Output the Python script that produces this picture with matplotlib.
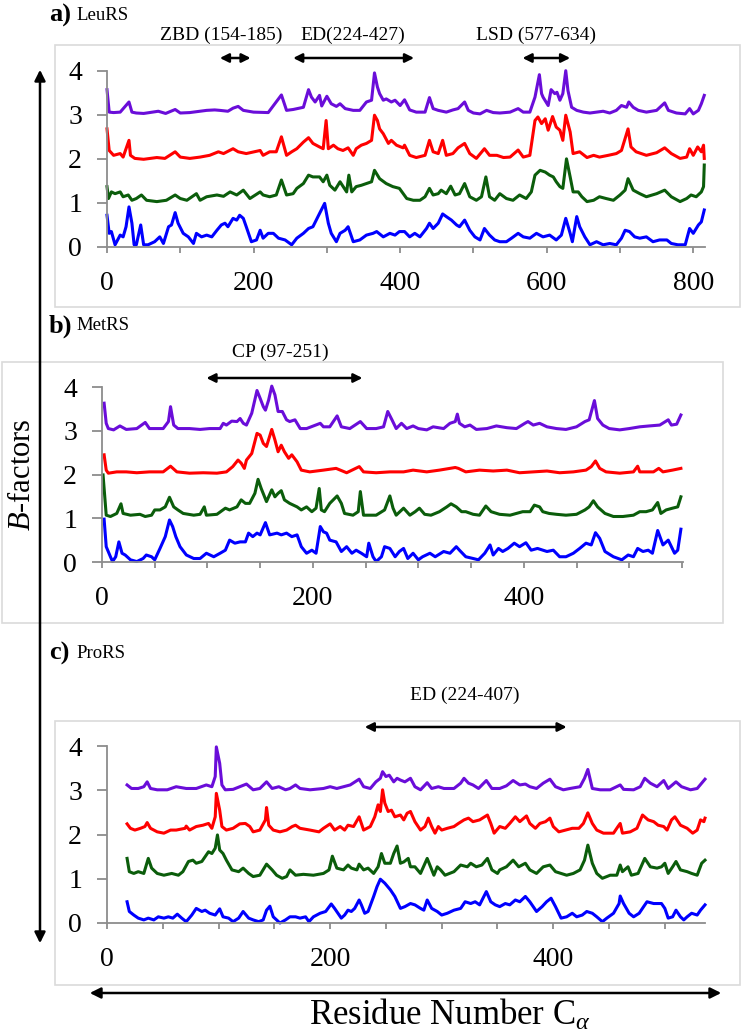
import matplotlib
matplotlib.use('Agg')
import matplotlib.pyplot as plt
from matplotlib.patches import Rectangle, FancyArrowPatch
import numpy as np

# (residue, B-factor); each trace is offset by 0/1/2/3
leu_purple = [(0,3.57),(3,3.06),(9,3.05),(18,3.06),(30,3.29),(34,3.06),(40,3.04),(50,3.03),(70,3.08),(80,3.03),
              (93,3.12),(100,3.04),(113,3.05),(136,3.10),(147,3.11),(154,3.10),(165,3.08),(172,3.15),(179,3.19),(186,3.10),
              (200,3.06),(220,3.05),(238,3.45),(245,3.10),(254,3.12),(268,3.17),(275,3.57),(279,3.40),(284,3.29),(290,3.44),
              (293,3.20),(300,3.42),(306,3.25),(313,3.19),(318,3.25),(325,3.14),(336,3.10),(345,3.10),(354,3.29),(361,3.33),
              (365,3.95),(369,3.63),(372,3.48),(377,3.33),(381,3.36),(388,3.29),(393,3.33),(400,3.21),(406,3.34),(413,3.11),
              (422,3.06),(434,3.06),(440,3.39),(445,3.14),(452,3.10),(463,3.06),(472,3.11),(479,3.14),(488,3.29),(493,3.10),
              (500,3.04),(509,3.02),(518,3.10),(527,3.05),(536,3.04),(550,3.06),(561,3.14),(568,3.06),(577,3.06),(584,3.40),
              (590,3.91),(593,3.48),(595,3.40),(602,3.21),(606,3.57),(611,3.48),(614,3.51),(618,3.33),(622,3.48),(626,4.00),
              (629,3.55),(634,3.17),(641,3.10),(650,3.06),(659,3.04),(668,3.06),(677,3.08),(686,3.04),(695,3.10),(702,3.21),
              (709,3.17),(712,3.29),(718,3.17),(725,3.10),(736,3.06),(750,3.10),(761,3.27),(766,3.10),(777,3.04),(789,3.02),
              (795,3.14),(800,3.02),(807,3.10),(811,3.25),(815,3.44)]
leu_red = [(0,2.68),(3,2.19),(9,2.08),(18,2.12),(22,2.04),(30,2.42),(32,2.08),(38,2.01),(50,1.99),(68,2.03),
           (79,2.01),(93,2.16),(100,2.04),(113,2.01),(127,2.04),(140,2.08),(152,2.16),(159,2.12),(172,2.23),(179,2.16),
           (190,2.12),(209,2.19),(213,2.08),(222,2.16),(231,2.16),(238,2.50),(245,2.08),(252,2.16),(259,2.23),(268,2.38),
           (275,2.48),(281,2.35),(290,2.27),(295,2.23),(299,2.87),(302,2.23),(309,2.31),(315,2.23),(322,2.19),(329,2.25),
           (336,2.08),(340,2.23),(347,2.31),(354,2.35),(361,2.42),(365,2.99),(369,2.87),(372,2.68),(377,2.57),(384,2.35),
           (388,2.42),(395,2.31),(404,2.25),(406,2.31),(413,2.08),(422,2.03),(434,2.08),(440,2.42),(445,2.16),(452,2.12),
           (458,2.42),(463,2.08),(472,2.12),(479,2.25),(488,2.35),(495,2.12),(504,2.01),(515,2.23),(522,2.08),(532,2.08),
           (541,2.03),(550,2.04),(561,2.20),(568,2.04),(577,2.08),(584,2.87),(588,2.95),(593,2.80),(598,2.91),(602,2.65),
           (608,2.96),(613,2.72),(618,2.65),(622,2.42),(626,2.99),(632,2.61),(636,2.12),(645,2.16),(655,2.03),(664,2.08),
           (672,2.04),(684,2.08),(695,2.12),(702,2.19),(711,2.68),(715,2.27),(722,2.16),(736,2.08),(750,2.14),(761,2.25),
           (770,2.12),(782,2.01),(791,2.04),(795,2.23),(800,2.08),(806,2.27),(811,2.16),(814,2.31),(815,2.01)]
leu_green = [(0,1.37),(2,1.10),(6,1.25),(11,1.21),(18,1.25),(22,1.14),(29,1.18),(34,1.06),(40,1.10),(47,1.18),
             (54,1.06),(68,1.03),(81,1.06),(93,1.18),(100,1.10),(109,1.06),(122,1.21),(127,1.06),(136,1.14),(150,1.18),
             (159,1.15),(168,1.25),(177,1.18),(186,1.29),(195,1.10),(209,1.25),(213,1.18),(222,1.14),(231,1.18),(238,1.52),
             (245,1.18),(254,1.21),(259,1.33),(268,1.44),(275,1.63),(281,1.59),(290,1.59),(295,1.48),(300,1.63),(304,1.40),
             (311,1.29),(318,1.48),(327,1.25),(330,1.63),(334,1.25),(340,1.37),(347,1.40),(354,1.44),(361,1.48),(365,1.74),
             (372,1.55),(381,1.44),(390,1.37),(399,1.33),(409,1.10),(418,1.06),(427,1.06),(434,1.14),(440,1.33),(445,1.18),
             (452,1.21),(456,1.29),(463,1.21),(469,1.38),(475,1.18),(481,1.21),(488,1.44),(495,1.14),(504,1.06),(511,1.14),
             (517,1.59),(522,1.14),(529,1.06),(536,1.21),(545,1.10),(554,1.06),(563,1.18),(572,1.10),(579,1.25),(584,1.63),
             (591,1.74),(598,1.70),(604,1.63),(609,1.59),(613,1.48),(618,1.37),(622,1.33),(627,2.00),(632,1.59),(636,1.25),
             (643,1.25),(648,1.14),(655,1.03),(664,1.06),(672,1.14),(681,1.10),(691,1.06),(700,1.18),(707,1.29),(711,1.55),
             (718,1.29),(727,1.21),(736,1.14),(750,1.21),(761,1.29),(770,1.14),(782,1.03),(791,1.10),(797,1.18),(804,1.14),
             (811,1.25),(814,1.37),(815,1.86)]
leu_blue = [(0,0.72),(3,0.31),(6,0.35),(11,0.05),(18,0.27),(22,0.23),(26,0.46),(30,0.91),(34,0.54),(37,0.05),
            (40,0.05),(46,0.50),(50,0.05),(56,0.05),(65,0.12),(72,0.23),(77,0.08),(84,0.46),(88,0.50),(93,0.78),
            (97,0.54),(104,0.31),(111,0.23),(118,0.08),(122,0.31),(129,0.23),(136,0.27),(143,0.23),(150,0.38),(156,0.50),
            (161,0.54),(165,0.46),(172,0.65),(177,0.61),(181,0.72),(186,0.65),(190,0.46),(197,0.12),(204,0.16),(209,0.38),
            (213,0.20),(220,0.31),(227,0.31),(234,0.20),(243,0.16),(252,0.05),(259,0.20),(268,0.31),(275,0.42),(281,0.46),
            (290,0.76),(297,0.99),(302,0.54),(306,0.31),(313,0.12),(318,0.31),(325,0.38),(329,0.46),(336,0.12),(345,0.16),
            (354,0.27),(363,0.31),(368,0.35),(377,0.23),(386,0.31),(393,0.27),(399,0.35),(406,0.35),(413,0.23),(420,0.31),
            (427,0.23),(436,0.42),(440,0.54),(445,0.42),(452,0.54),(458,0.75),(463,0.69),(470,0.61),(477,0.50),(481,0.46),
            (488,0.61),(495,0.38),(502,0.23),(509,0.16),(515,0.42),(522,0.27),(529,0.16),(536,0.12),(545,0.12),(552,0.20),
            (561,0.31),(568,0.23),(577,0.20),(586,0.31),(595,0.23),(604,0.27),(613,0.16),(620,0.27),(626,0.65),(632,0.31),
            (635,0.12),(641,0.69),(645,0.46),(652,0.23),(659,0.05),(668,0.12),(677,0.05),(686,0.08),(695,0.05),(702,0.20),
            (707,0.38),(713,0.35),(720,0.23),(727,0.20),(736,0.23),(745,0.12),(754,0.16),(764,0.16),(770,0.08),(779,0.05),
            (789,0.05),(795,0.42),(800,0.31),(807,0.50),(811,0.57),(815,0.84)]

met_purple = [(2,3.63),(4,3.17),(6,3.05),(11,3.02),(17,3.11),(23,3.03),(33,3.05),(41,3.19),(45,3.05),(58,3.05),
              (63,3.21),(65,3.55),(68,3.13),(72,3.05),(83,3.05),(93,3.03),(102,3.05),(112,3.05),(115,3.17),(118,3.13),
              (123,3.22),(128,3.21),(131,3.28),(134,3.17),(137,3.13),(142,3.40),(147,3.92),(150,3.74),(153,3.55),(155,3.47),
              (158,3.70),(161,4.02),(164,3.82),(167,3.44),(171,3.44),(175,3.25),(178,3.21),(183,3.25),(188,3.05),(194,3.05),
              (207,3.17),(210,3.09),(216,3.09),(223,3.34),(227,3.09),(235,3.05),(245,3.21),(251,3.05),(260,3.05),(267,3.09),
              (271,3.44),(275,3.25),(279,3.05),(284,3.17),(289,3.05),(295,3.11),(300,3.05),(308,3.02),(314,3.09),(324,3.05),
              (330,3.17),(335,3.21),(337,3.38),(339,3.17),(344,3.09),(349,3.13),(355,3.03),(365,3.05),(374,3.11),(384,3.07),
              (393,3.05),(401,3.17),(404,3.21),(409,3.13),(415,3.17),(422,3.09),(431,3.05),(440,3.03),(450,3.09),(458,3.21),
              (462,3.25),(467,3.69),(470,3.28),(475,3.13),(481,3.05),(491,3.02),(500,3.05),(510,3.09),(519,3.11),(529,3.13),
              (537,3.25),(540,3.13),(545,3.15),(549,3.36)]
met_red = [(2,2.45),(4,2.10),(6,2.03),(14,2.06),(23,2.06),(33,2.04),(45,2.06),(58,2.06),(65,2.19),(71,2.06),
           (83,2.03),(96,2.04),(109,2.03),(118,2.06),(124,2.18),(129,2.33),(132,2.26),(135,2.14),(137,2.33),(142,2.48),
           (147,2.94),(150,2.90),(153,2.71),(156,2.64),(161,3.03),(164,2.79),(167,2.52),(170,2.67),(173,2.52),(177,2.37),
           (180,2.45),(185,2.29),(189,2.10),(197,2.06),(210,2.10),(222,2.14),(232,2.04),(244,2.18),(248,2.06),(260,2.04),
           (273,2.06),(286,2.06),(295,2.10),(308,2.06),(320,2.10),(335,2.16),(338,2.14),(345,2.06),(358,2.10),(371,2.08),
           (384,2.10),(396,2.04),(409,2.06),(422,2.08),(434,2.04),(447,2.06),(459,2.10),(464,2.18),(468,2.31),(472,2.14),
           (478,2.06),(491,2.03),(504,2.06),(508,2.19),(510,2.06),(523,2.06),(528,2.14),(532,2.06),(541,2.10),(549,2.14)]
met_green = [(1,1.99),(4,1.07),(8,1.04),(14,1.11),(18,1.33),(20,1.11),(27,1.07),(36,1.09),(41,1.04),(47,1.07),
             (50,1.19),(55,1.19),(60,1.26),(64,1.48),(68,1.26),(72,1.19),(77,1.11),(87,1.07),(93,1.09),(97,1.26),
             (99,1.07),(109,1.09),(117,1.23),(121,1.19),(128,1.26),(132,1.42),(136,1.34),(140,1.34),(145,1.57),(148,1.89),
             (151,1.68),(156,1.38),(161,1.65),(164,1.49),(167,1.57),(170,1.63),(173,1.42),(178,1.34),(185,1.26),(189,1.19),
             (194,1.26),(199,1.15),(203,1.23),(206,1.68),(208,1.19),(211,1.15),(216,1.34),(223,1.51),(227,1.34),(230,1.11),
             (238,1.07),(243,1.15),(245,1.61),(248,1.07),(254,1.07),(260,1.07),(268,1.19),(273,1.51),(276,1.23),(279,1.07),
             (286,1.23),(292,1.07),(297,1.15),(301,1.23),(306,1.09),(312,1.07),(320,1.15),(327,1.26),(331,1.33),(336,1.26),
             (341,1.15),(345,1.15),(352,1.09),(358,1.07),(364,1.28),(369,1.15),(377,1.09),(387,1.07),(393,1.11),(399,1.15),
             (406,1.15),(410,1.30),(415,1.26),(418,1.15),(424,1.11),(431,1.09),(440,1.07),(450,1.09),(458,1.19),(462,1.26),
             (466,1.40),(470,1.26),(477,1.11),(485,1.04),(494,1.04),(504,1.07),(510,1.15),(516,1.15),(522,1.19),(527,1.36),
             (530,1.11),(535,1.19),(541,1.23),(546,1.26),(549,1.49)]
met_blue = [(2,0.98),(4,0.35),(8,0.12),(10,0.01),(13,0.12),(16,0.46),(19,0.20),(22,0.16),(27,0.05),(33,0.01),
            (39,0.08),(42,0.16),(47,0.12),(50,0.05),(55,0.31),(60,0.58),(64,0.96),(67,0.81),(70,0.58),(74,0.35),
            (80,0.16),(87,0.08),(93,0.08),(99,0.20),(106,0.12),(112,0.20),(117,0.27),(121,0.50),(126,0.43),(131,0.46),
            (136,0.46),(139,0.66),(143,0.58),(147,0.66),(150,0.62),(155,0.90),(159,0.62),(166,0.66),(170,0.62),(175,0.66),
            (180,0.58),(185,0.62),(189,0.35),(194,0.20),(199,0.27),(203,0.20),(207,0.81),(210,0.69),(213,0.66),(216,0.50),
            (222,0.46),(227,0.24),(232,0.35),(237,0.20),(241,0.27),(246,0.20),(251,0.12),(253,0.43),(257,0.12),(260,0.01),
            (265,0.12),(268,0.35),(273,0.31),(278,0.12),(282,0.24),(286,0.31),(290,0.08),(295,0.20),(300,0.05),(304,0.12),
            (311,0.20),(316,0.12),(324,0.24),(330,0.20),(336,0.35),(339,0.27),(345,0.12),(352,0.08),(357,0.05),(363,0.20),
            (368,0.39),(371,0.16),(376,0.31),(380,0.24),(385,0.31),(391,0.43),(396,0.35),(402,0.44),(407,0.27),(413,0.31),
            (422,0.24),(428,0.27),(434,0.12),(440,0.12),(447,0.20),(453,0.31),(459,0.43),(464,0.39),(468,0.67),(472,0.54),
            (477,0.24),(485,0.12),(493,0.05),(499,0.16),(504,0.12),(508,0.31),(513,0.24),(518,0.27),(522,0.20),(527,0.72),
            (532,0.39),(537,0.50),(540,0.35),(543,0.20),(546,0.27),(549,0.75)]

pro_purple = [(18,3.12),(22,3.04),(28,3.04),(33,3.08),(36,3.19),(39,3.04),(45,3.01),(54,3.01),(62,3.08),(71,3.04),
              (80,3.04),(89,3.12),(94,3.08),(97,3.31),(98,3.98),(101,3.61),(103,3.12),(106,3.01),(113,3.02),(119,3.08),
              (125,3.14),(131,3.01),(137,3.04),(143,3.19),(148,3.04),(154,3.08),(160,3.01),(164,3.04),(169,3.12),(173,3.04),
              (182,3.01),(194,3.04),(200,3.08),(206,3.04),(212,3.08),(218,3.12),(226,3.25),(230,3.08),(236,3.04),(241,3.19),
              (245,3.27),(247,3.42),(250,3.31),(253,3.34),(257,3.19),(260,3.27),(263,3.23),(267,3.19),(272,3.27),(276,3.08),
              (281,3.01),(287,3.17),(291,3.04),(297,3.08),(302,3.04),(311,3.04),(317,3.16),(320,3.27),(324,3.16),(328,3.12),
              (333,3.04),(340,3.22),(345,3.04),(352,3.04),(358,3.10),(364,3.22),(370,3.12),(375,3.14),(379,3.08),(385,3.04),
              (391,3.16),(397,3.25),(402,3.08),(409,3.01),(415,3.04),(424,3.08),(428,3.27),(431,3.47),(435,3.04),(442,3.01),
              (451,3.01),(460,3.12),(463,3.02),(472,3.01),(478,3.08),(482,3.27),(487,3.16),(493,3.08),(499,3.22),(503,3.04),
              (510,3.19),(515,3.08),(523,3.01),(529,3.04),(533,3.16),(536,3.25)]
pro_red = [(18,2.24),(21,2.14),(25,2.10),(30,2.14),(34,2.18),(36,2.27),(39,2.14),(45,2.06),(51,2.03),(57,2.10),
           (62,2.10),(70,2.14),(71,2.19),(74,2.10),(80,2.18),(86,2.21),(91,2.25),(94,2.14),(97,2.40),(98,2.93),
           (101,2.55),(103,2.18),(107,2.10),(113,2.14),(119,2.24),(124,2.25),(128,2.18),(131,2.06),(137,2.10),(142,2.33),
           (143,2.61),(145,2.21),(149,2.10),(155,2.06),(161,2.10),(166,2.18),(169,2.21),(173,2.14),(182,2.10),(190,2.06),
           (194,2.14),(200,2.24),(204,2.10),(209,2.18),(213,2.10),(216,2.21),(221,2.18),(226,2.40),(230,2.10),(236,2.18),
           (240,2.40),(243,2.67),(245,2.52),(247,3.01),(249,2.71),(252,2.52),(255,2.55),(258,2.40),(263,2.44),(266,2.33),
           (269,2.48),(272,2.52),(276,2.29),(281,2.10),(285,2.18),(288,2.37),(291,2.18),(294,2.03),(297,2.18),(300,2.10),
           (305,2.14),(311,2.18),(315,2.25),(320,2.33),(324,2.37),(328,2.29),(334,2.33),(341,2.44),(344,2.25),(347,2.03),
           (352,2.18),(357,2.14),(361,2.25),(366,2.40),(370,2.29),(376,2.42),(379,2.25),(384,2.14),(388,2.25),(393,2.29),
           (397,2.37),(400,2.18),(405,2.06),(411,2.10),(417,2.14),(423,2.14),(427,2.25),(431,2.49),(435,2.25),(439,2.10),
           (445,2.03),(454,2.03),(458,2.18),(460,2.25),(462,2.03),(469,2.06),(475,2.14),(480,2.44),(485,2.33),(490,2.29),
           (494,2.21),(499,2.18),(502,2.10),(506,2.33),(509,2.40),(514,2.21),(520,2.14),(525,2.03),(529,2.10),(532,2.33),
           (535,2.29),(536,2.37)]
pro_green = [(18,1.46),(20,1.16),(24,1.12),(28,1.16),(33,1.12),(37,1.46),(40,1.24),(45,1.12),(51,1.08),(58,1.12),
             (64,1.08),(68,1.16),(73,1.39),(77,1.42),(80,1.35),(85,1.39),(88,1.50),(91,1.61),(94,1.57),(97,1.69),
             (99,1.99),(101,1.65),(104,1.57),(107,1.42),(112,1.20),(118,1.16),(122,1.24),(127,1.12),(131,1.05),(137,1.08),
             (143,1.33),(148,1.20),(152,1.08),(157,1.01),(161,1.05),(164,1.20),(169,1.08),(176,1.10),(185,1.08),(194,1.12),
             (199,1.20),(202,1.51),(206,1.24),(212,1.20),(216,1.31),(219,1.24),(224,1.20),(226,1.33),(230,1.20),(234,1.24),
             (239,1.12),(243,1.27),(246,1.57),(249,1.35),(254,1.35),(257,1.57),(260,1.74),(263,1.35),(266,1.38),(270,1.46),
             (272,1.27),(276,1.27),(281,1.12),(287,1.46),(290,1.27),(293,1.08),(296,1.27),(299,1.20),(303,1.08),(311,1.16),
             (317,1.31),(323,1.27),(326,1.35),(331,1.27),(336,1.31),(341,1.46),(345,1.20),(350,1.12),(352,1.20),(358,1.27),
             (364,1.42),(369,1.27),(375,1.35),(379,1.20),(385,1.12),(391,1.27),(397,1.31),(402,1.16),(407,1.12),(412,1.08),
             (418,1.12),(424,1.20),(428,1.42),(431,1.76),(435,1.35),(439,1.12),(444,1.01),(451,1.08),(457,1.08),(460,1.31),
             (462,1.16),(467,1.27),(470,1.08),(476,1.12),(482,1.46),(487,1.27),(493,1.24),(497,1.27),(500,1.35),(503,1.12),
             (507,1.27),(510,1.39),(514,1.20),(520,1.16),(524,1.12),(529,1.08),(533,1.35),(536,1.42)]
pro_blue = [(18,0.48),(20,0.26),(24,0.18),(28,0.11),(33,0.07),(37,0.11),(42,0.07),(46,0.14),(51,0.11),(55,0.14),
            (59,0.11),(63,0.20),(67,0.11),(71,0.03),(76,0.18),(80,0.33),(85,0.26),(88,0.29),(92,0.22),(97,0.18),
            (101,0.32),(104,0.14),(109,0.11),(113,0.03),(118,0.11),(122,0.26),(127,0.11),(131,0.07),(136,0.03),(140,0.07),
            (143,0.29),(146,0.38),(149,0.14),(152,0.07),(155,0.00),(160,0.07),(164,0.14),(169,0.14),(173,0.11),(178,0.14),
            (181,0.03),(185,0.14),(191,0.22),(196,0.26),(201,0.43),(204,0.33),(210,0.11),(213,0.18),(216,0.29),(219,0.26),
            (222,0.33),(226,0.52),(228,0.41),(231,0.22),(234,0.26),(239,0.60),(242,0.82),(245,0.99),(249,0.90),(254,0.75),
            (258,0.60),(263,0.33),(267,0.37),(272,0.44),(276,0.41),(281,0.33),(284,0.29),(287,0.52),(291,0.33),(296,0.26),
            (300,0.18),(305,0.22),(311,0.29),(317,0.33),(321,0.48),(326,0.44),(330,0.48),(334,0.41),(340,0.71),(344,0.48),
            (348,0.41),(352,0.37),(357,0.44),(361,0.41),(366,0.52),(370,0.48),(375,0.60),(379,0.48),(385,0.26),(390,0.37),
            (394,0.48),(398,0.56),(402,0.37),(407,0.11),(412,0.14),(417,0.22),(421,0.14),(426,0.18),(430,0.26),(435,0.22),
            (439,0.14),(444,0.03),(448,0.11),(454,0.22),(459,0.44),(460,0.61),(463,0.44),(468,0.22),(472,0.14),(477,0.22),
            (481,0.37),(484,0.48),(490,0.44),(497,0.44),(500,0.33),(503,0.11),(507,0.14),(510,0.29),(514,0.14),(517,0.07),
            (520,0.14),(524,0.22),(529,0.18),(532,0.29),(536,0.41)]

# domain arrows: (label, start residue, end residue as drawn)
leu_domains = [("ZBD (154-185)", 154, 196), ("ED(224-427)", 254, 419), ("LSD (577-634)", 567, 632)]
met_domains = [("CP (97-251)", 99, 247)]
pro_domains = [("ED (224-407)", 231, 412)]

PURPLE, RED, GREEN, BLUE = '#6A0DD9', '#FF0000', '#0B5D0B', '#0000FF'
W, H = 742, 1033

plt.rcParams['font.family'] = 'Liberation Serif'
plt.rcParams['mathtext.fontset'] = 'custom'
plt.rcParams['mathtext.rm'] = 'Liberation Serif'
plt.rcParams['mathtext.it'] = 'Liberation Serif:italic'


def fx(x):
    return x / W


def fy(y):
    return 1 - y / H


def add_px_axes(fig, l, t, r, b):
    return fig.add_axes([fx(l), fy(b), (r - l) / W, (b - t) / H])


def draw_panel(ax, traces, xmax, step, label_step):
    for pts, col in traces:
        ax.plot([p[0] for p in pts], [p[1] for p in pts], color=col, lw=2.2, clip_on=False)
    ax.set_xlim(0, xmax)
    ax.set_ylim(0, 4)
    ticks = np.arange(0, xmax + 1, step)
    ax.set_xticks(ticks)
    ax.set_xticklabels([str(t) if t % label_step == 0 else '' for t in ticks])
    ax.set_yticks([0, 1, 2, 3, 4])
    for s in ['top', 'right']:
        ax.spines[s].set_visible(False)
    for s in ['left', 'bottom']:
        ax.spines[s].set_color('#8C8C8C')
        ax.spines[s].set_linewidth(1.3)
    ax.tick_params(axis='y', length=7, width=1.3, color='#8C8C8C', pad=11, labelsize=20)
    ax.tick_params(axis='x', length=4.5, width=1.3, color='#8C8C8C', pad=13, labelsize=20)
    ax.patch.set_alpha(0)


def domain_arrow(ax, x1, x2, ypx):
    ax.annotate('', xy=(x2, fy(ypx)), xytext=(x1, fy(ypx)),
                xycoords=('data', 'figure fraction'), textcoords=('data', 'figure fraction'),
                arrowprops=dict(arrowstyle='<|-|>', color='black', lw=1.8, mutation_scale=13,
                                shrinkA=0, shrinkB=0),
                annotation_clip=False)


fig = plt.figure(figsize=(W / 100, H / 100), dpi=100)

# light panel frames
for (l, t, r, b) in [(55, 45, 740, 307), (2, 362, 723, 623), (55, 721, 740, 985)]:
    fig.add_artist(Rectangle((fx(l), fy(b)), (r - l) / W, (b - t) / H, transform=fig.transFigure,
                             fill=False, edgecolor='#DADADA', lw=1.2))

ax_a = add_px_axes(fig, 107, 70.7, 705, 247)
draw_panel(ax_a, [(leu_purple, PURPLE), (leu_red, RED), (leu_green, GREEN), (leu_blue, BLUE)], 816, 100, 200)
ax_b = add_px_axes(fig, 102, 387, 683, 562)
draw_panel(ax_b, [(met_purple, PURPLE), (met_red, RED), (met_green, GREEN), (met_blue, BLUE)], 551, 50, 200)
ax_c = add_px_axes(fig, 107, 746, 705, 923)
draw_panel(ax_c, [(pro_purple, PURPLE), (pro_red, RED), (pro_green, GREEN), (pro_blue, BLUE)], 536, 50, 200)

# domain arrows and labels
for (lab, s, e), xc in zip(leu_domains, [221, 353, 536]):
    domain_arrow(ax_a, s, e, 58)
    fig.text(fx(xc), fy(35), lab, ha='center', va='center', fontsize=14)
for (lab, s, e) in met_domains:
    domain_arrow(ax_b, s, e, 378)
    fig.text(fx(280), fy(352), lab, ha='center', va='center', fontsize=14)
for (lab, s, e) in pro_domains:
    domain_arrow(ax_c, s, e, 727)
    fig.text(fx(465), fy(695), lab, ha='center', va='center', fontsize=14)

# panel titles
for letter, name, ypx in [("a)", "LeuRS", 15), ("b)", "MetRS", 326), ("c)", "ProRS", 653)]:
    fig.text(fx(49), fy(ypx), letter, ha='left', va='center', fontsize=19, fontweight='bold')
    fig.text(fx(76), fy(ypx), name, ha='left', va='center', fontsize=13.5)

# outer axis arrows
fig.add_artist(FancyArrowPatch((fx(40), fy(946)), (fx(40), fy(67)), transform=fig.transFigure,
                               arrowstyle='<|-|>', mutation_scale=16, lw=1.8, color='black'))
fig.add_artist(FancyArrowPatch((fx(87), fy(993)), (fx(724), fy(993)), transform=fig.transFigure,
                               arrowstyle='<|-|>', mutation_scale=16, lw=1.8, color='black'))
fig.text(fx(23), fy(475), '$B$-factors', rotation=90, ha='center', va='center', fontsize=22)
fig.text(fx(450), fy(1015), 'Residue Number C$_{\\alpha}$', ha='center', va='center', fontsize=25)

fig.savefig('out.png', dpi=100)
